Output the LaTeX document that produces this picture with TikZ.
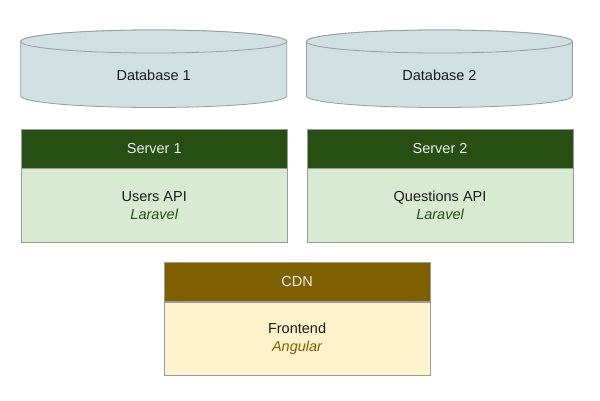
\documentclass[tikz,border=0pt]{standalone}
\usepackage{fontspec}
\setmainfont{Liberation Sans}
\definecolor{dbfill}{HTML}{D0E0E3}
\definecolor{bordergray}{HTML}{9A9A9A}
\definecolor{hdgreen}{HTML}{274E13}
\definecolor{bodygreen}{HTML}{D9EAD3}
\definecolor{hdyellow}{HTML}{7F6000}
\definecolor{bodyyellow}{HTML}{FFF2CC}
\definecolor{headtext}{HTML}{EEEEEE}
\definecolor{maintext}{HTML}{1A1A1A}
\begin{document}
\begin{tikzpicture}[x=1pt,y=1pt,
  font=\fontsize{14.5}{18}\selectfont,
  db/.style={draw=bordergray, line width=0.8pt, fill=dbfill},
  header/.style={draw=bordergray, line width=0.8pt, minimum width=266.3pt, minimum height=38.5pt, inner sep=0pt, anchor=north west, text=headtext},
  body/.style={draw=bordergray, line width=0.8pt, minimum width=266.3pt, minimum height=73.5pt, inner sep=0pt, anchor=north west, align=center, text=maintext},
  lbl/.style={text=maintext}
]
\useasboundingbox (0,0) rectangle (600,400);
% Database 1
\draw[db] (20.7,358.5) -- (20.7,304) arc[start angle=180, end angle=360, x radius=133, y radius=11.5] -- (286.7,358.5) arc[start angle=0, end angle=180, x radius=133, y radius=11.5] -- cycle;
\draw[db] (153.7,358.5) ellipse [x radius=133, y radius=11.5];
\node[lbl] (db1) at (153.7,325) {Database 1};
% Database 2
\draw[db] (306.5,358.5) -- (306.5,304) arc[start angle=180, end angle=360, x radius=133, y radius=11.5] -- (572.5,358.5) arc[start angle=0, end angle=180, x radius=133, y radius=11.5] -- cycle;
\draw[db] (439.5,358.5) ellipse [x radius=133, y radius=11.5];
\node[lbl] (db2) at (439.5,325) {Database 2};
% Server 1
\node[header, fill=hdgreen] (s1h) at (20.7,271) {Server 1};
\node[body, fill=bodygreen] (s1b) at (s1h.south west) {Users API\\\textcolor{hdgreen}{\itshape Laravel}};
% Server 2
\node[header, fill=hdgreen] (s2h) at (306.5,271) {Server 2};
\node[body, fill=bodygreen] (s2b) at (s2h.south west) {Questions API\\\textcolor{hdgreen}{\itshape Laravel}};
% CDN
\node[header, fill=hdyellow] (cdnh) at (163.5,137.7) {CDN};
\node[body, fill=bodyyellow] (cdnb) at (cdnh.south west) {Frontend\\\textcolor{hdyellow}{\itshape Angular}};
\end{tikzpicture}
\end{document}
